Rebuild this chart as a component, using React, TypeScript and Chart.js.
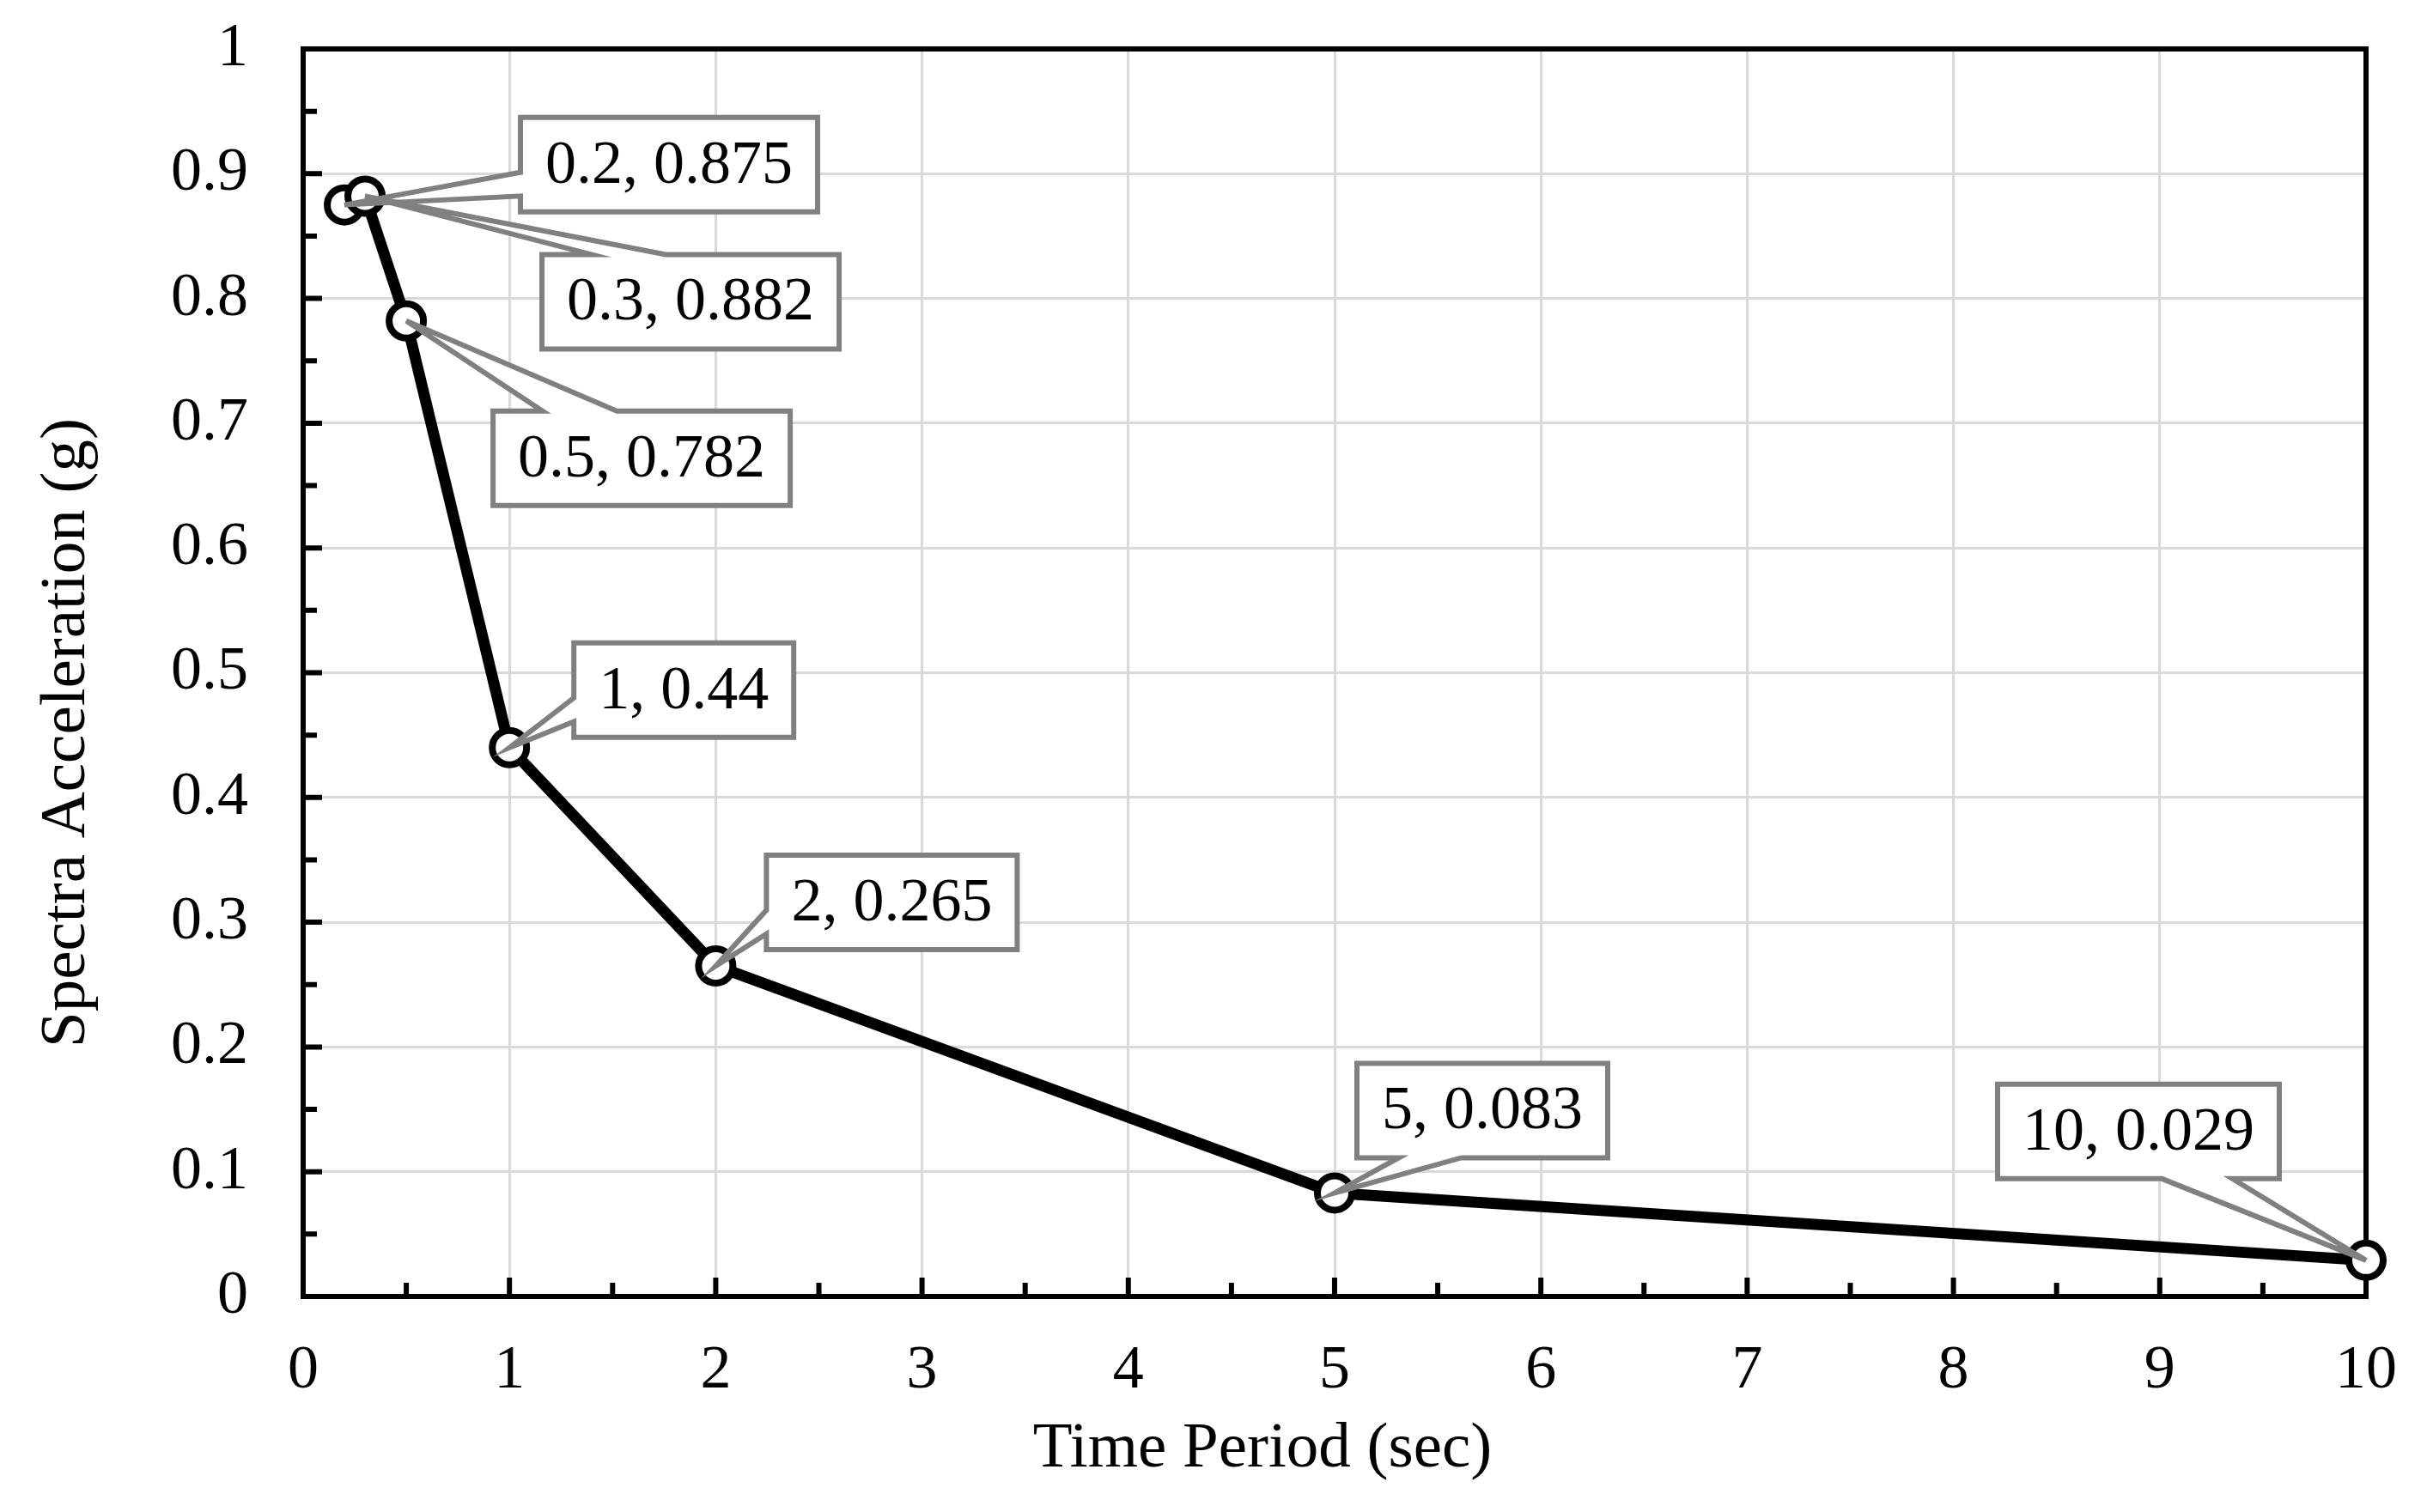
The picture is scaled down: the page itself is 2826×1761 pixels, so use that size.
import { useEffect, useRef } from 'react';
import Chart from 'chart.js/auto';

// spectral acceleration values
const periods = [0.2, 0.3, 0.5, 1, 2, 5, 10];
const accel = [0.875, 0.882, 0.782, 0.44, 0.265, 0.083, 0.029];

const xTickValues = [0, 1, 2, 3, 4, 5, 6, 7, 8, 9, 10];
const xTickLabels = ['0', '1', '2', '3', '4', '5', '6', '7', '8', '9', '10'];
const yTickValues = [0, 0.1, 0.2, 0.3, 0.4, 0.5, 0.6, 0.7, 0.8, 0.9, 1];
const yTickLabels = ['0', '0.1', '0.2', '0.3', '0.4', '0.5', '0.6', '0.7', '0.8', '0.9', '1'];

const xTitle = 'Time Period (sec)';
const yTitle = 'Spectra Acceleration (g)';

// callout box placement: top-left corner offset from the point, and the edge the wedge leaves from
const labelOffsets: [number, number][] = [
  [205, -102],
  [206, 68],
  [101, 105],
  [75, -122],
  [59, -129],
  [26, -151],
  [-429, -205],
];
const labelEdges = ['left', 'top', 'top', 'left', 'left', 'bottom', 'bottom'];

const FONT = '"Liberation Serif", "Times New Roman", serif';

const noPadding = (scale: any) => {
  scale.paddingTop = 0;
  scale.paddingBottom = 0;
  scale.paddingLeft = 0;
  scale.paddingRight = 0;
};

const excelFrame = {
  id: 'excelFrame',
  beforeDatasetsDraw(chart: any) {
    const { ctx, chartArea: a, scales } = chart;
    const x = scales.x;
    const y = scales.y;
    ctx.save();
    ctx.strokeStyle = '#000';
    ctx.lineWidth = 6;
    ctx.lineCap = 'butt';
    ctx.beginPath();
    xTickValues.forEach((v, i) => {
      const px = x.getPixelForValue(v);
      ctx.moveTo(px, a.bottom);
      ctx.lineTo(px, a.bottom - 22);
      if (i < xTickValues.length - 1) {
        const m = x.getPixelForValue((v + xTickValues[i + 1]) / 2);
        ctx.moveTo(m, a.bottom);
        ctx.lineTo(m, a.bottom - 16);
      }
    });
    yTickValues.forEach((v, i) => {
      const py = y.getPixelForValue(v);
      ctx.moveTo(a.left, py);
      ctx.lineTo(a.left + 22, py);
      if (i < yTickValues.length - 1) {
        const m = y.getPixelForValue((v + yTickValues[i + 1]) / 2);
        ctx.moveTo(a.left, m);
        ctx.lineTo(a.left + 16, m);
      }
    });
    ctx.stroke();
    ctx.lineJoin = 'miter';
    ctx.strokeRect(a.left, a.top, a.right - a.left, a.bottom - a.top);
    ctx.restore();
  },
  afterDatasetsDraw(chart: any) {
    const { ctx } = chart;
    const meta = chart.getDatasetMeta(0);
    ctx.save();
    ctx.font = `72px ${FONT}`;
    meta.data.forEach((pt: any, i: number) => {
      const tx = pt.x;
      const ty = pt.y;
      const text = `${periods[i]}, ${accel[i]}`;
      const w = ctx.measureText(text).width + 58;
      const h = 110;
      const L = tx + labelOffsets[i][0];
      const T = ty + labelOffsets[i][1];
      const R = L + w;
      const B = T + h;
      const cx = (L + R) / 2;
      const cy = (T + B) / 2;
      const edge = labelEdges[i];
      const fx = tx < cx ? [2, 5] : [7, 10];
      const fy = ty < cy ? [2, 5] : [7, 10];

      ctx.beginPath();
      ctx.moveTo(L, T);
      if (edge === 'top') {
        ctx.lineTo(L + (w * fx[0]) / 12, T);
        ctx.lineTo(tx, ty);
        ctx.lineTo(L + (w * fx[1]) / 12, T);
      }
      ctx.lineTo(R, T);
      ctx.lineTo(R, B);
      if (edge === 'bottom') {
        ctx.lineTo(L + (w * fx[1]) / 12, B);
        ctx.lineTo(tx, ty);
        ctx.lineTo(L + (w * fx[0]) / 12, B);
      }
      ctx.lineTo(L, B);
      if (edge === 'left') {
        ctx.lineTo(L, T + (h * fy[1]) / 12);
        ctx.lineTo(tx, ty);
        ctx.lineTo(L, T + (h * fy[0]) / 12);
      }
      ctx.closePath();
      ctx.fillStyle = '#fff';
      ctx.fill();
      ctx.lineWidth = 6;
      ctx.lineJoin = 'miter';
      ctx.strokeStyle = '#808080';
      ctx.stroke();

      ctx.fillStyle = '#000';
      ctx.textAlign = 'center';
      ctx.textBaseline = 'middle';
      ctx.fillText(text, cx, cy + 2);
    });
    ctx.restore();
  },
  afterDraw(chart: any) {
    const { ctx, chartArea: a } = chart;
    ctx.save();
    ctx.fillStyle = '#000';
    ctx.font = `75px ${FONT}`;
    ctx.textAlign = 'center';
    ctx.textBaseline = 'alphabetic';
    ctx.fillText(xTitle, (a.left + a.right) / 2 - 84, a.bottom + 198);
    ctx.translate(a.left - 255, (a.top + a.bottom) / 2 + 70);
    ctx.rotate(-Math.PI / 2);
    ctx.fillText(yTitle, 0, 0);
    ctx.restore();
  },
};

export default function App() {
  const canvasRef = useRef<HTMLCanvasElement>(null);
  const chartRef = useRef<Chart | null>(null);

  useEffect(() => {
    if (chartRef.current) {
      chartRef.current.destroy();
    }
    const ctx = canvasRef.current?.getContext('2d');
    if (!ctx) return;

    chartRef.current = new Chart(ctx, {
      type: 'line',
      data: {
        datasets: [
          {
            data: periods.map((p, i) => ({ x: p, y: accel[i] })),
            borderColor: '#000',
            borderWidth: 13,
            borderJoinStyle: 'round',
            tension: 0,
            pointRadius: 20,
            pointHoverRadius: 20,
            pointBorderWidth: 8,
            pointBackgroundColor: '#fff',
            pointBorderColor: '#000',
            clip: false,
          } as any,
        ],
      },
      options: {
        responsive: false,
        animation: false,
        devicePixelRatio: 1,
        layout: { padding: { top: 57, right: 71, bottom: 0, left: 0 } },
        plugins: {
          legend: { display: false },
          tooltip: { enabled: false },
        },
        scales: {
          x: {
            type: 'linear',
            min: 0,
            max: 10,
            grid: { color: '#d9d9d9', lineWidth: 3, drawTicks: false },
            border: { display: false },
            afterBuildTicks: (scale: any) => {
              scale.ticks = xTickValues.map((v) => ({ value: v }));
            },
            afterFit: (scale: any) => {
              scale.height = 251;
              noPadding(scale);
            },
            ticks: {
              padding: 44,
              color: '#000',
              maxRotation: 0,
              font: { family: FONT, size: 72 },
              callback: (_v: any, i: number) => xTickLabels[i],
            },
          },
          y: {
            type: 'linear',
            min: 0,
            max: 1,
            grid: { color: '#d9d9d9', lineWidth: 3, drawTicks: false },
            border: { display: false },
            afterBuildTicks: (scale: any) => {
              scale.ticks = yTickValues.map((v) => ({ value: v }));
            },
            afterFit: (scale: any) => {
              scale.width = 353;
              noPadding(scale);
            },
            ticks: {
              padding: 64,
              color: '#000',
              font: { family: FONT, size: 72 },
              callback: (_v: any, i: number) => yTickLabels[i],
            },
          },
        },
      },
      plugins: [excelFrame],
    });

    return () => {
      if (chartRef.current) {
        chartRef.current.destroy();
        chartRef.current = null;
      }
    };
  }, []);

  return (
    <div style={{ position: 'fixed', left: 0, top: 0, width: 2826, height: 1761, background: '#fff' }}>
      <canvas ref={canvasRef} width={2826} height={1761} style={{ width: 2826, height: 1761 }}></canvas>
    </div>
  );
}
